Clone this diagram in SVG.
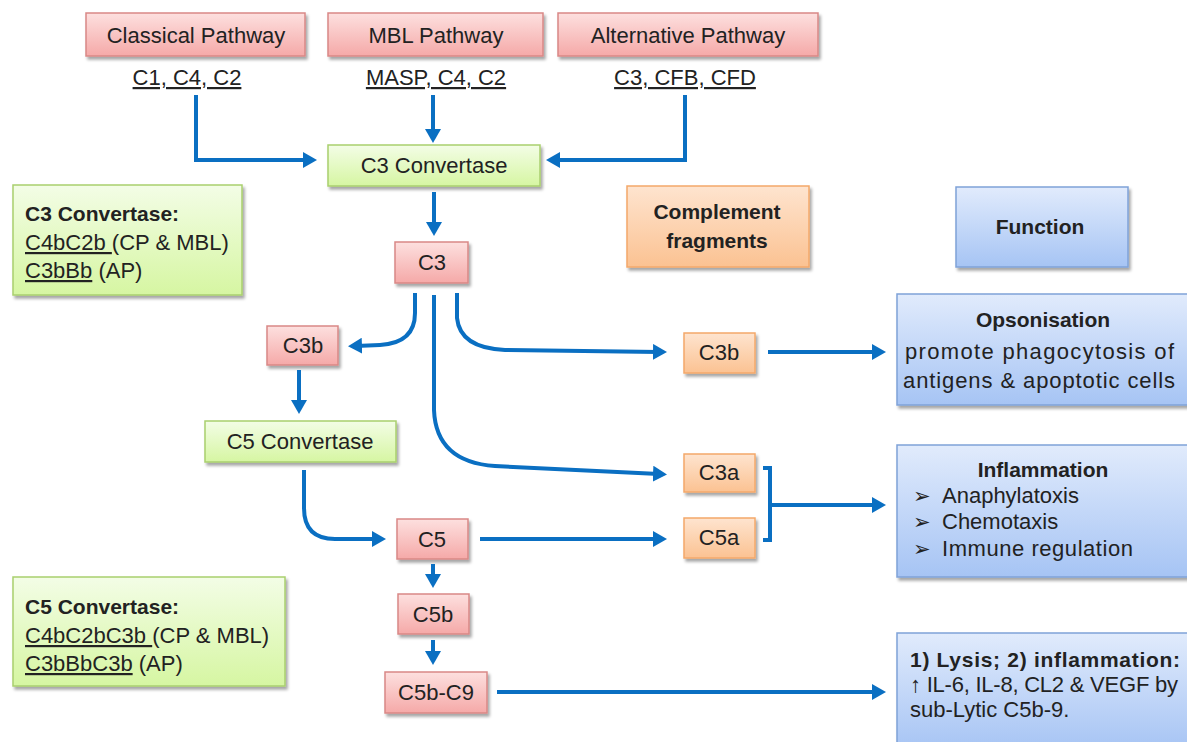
<svg xmlns="http://www.w3.org/2000/svg" width="1187" height="742" viewBox="0 0 1187 742">
<defs>
<linearGradient id="gRed" x1="0" y1="0" x2="0" y2="1"><stop offset="0" stop-color="#fde0df"/><stop offset="1" stop-color="#f5a9a8"/></linearGradient>
<linearGradient id="gGreen" x1="0" y1="0" x2="0" y2="1"><stop offset="0" stop-color="#f3fde6"/><stop offset="1" stop-color="#d6f6a2"/></linearGradient>
<linearGradient id="gOrange" x1="0" y1="0" x2="0" y2="1"><stop offset="0" stop-color="#fee4cf"/><stop offset="1" stop-color="#fbc292"/></linearGradient>
<linearGradient id="gBlue" x1="0" y1="0" x2="0" y2="1"><stop offset="0" stop-color="#e1ebfc"/><stop offset="1" stop-color="#a6c4f4"/></linearGradient>
<filter id="sh" x="-10%" y="-10%" width="130%" height="140%"><feDropShadow dx="2" dy="3" stdDeviation="1.5" flood-color="#000" flood-opacity="0.35"/></filter>
<marker id="ah" viewBox="0 0 14 16" refX="6" refY="8" markerWidth="14" markerHeight="16" orient="auto" markerUnits="userSpaceOnUse"><path d="M0,0 L14,8 L0,16 z" fill="#0a6fc2"/></marker>
</defs>
<style>
.red{fill:url(#gRed);stroke:#d98886;stroke-width:1.5;filter:url(#sh)}
.green{fill:url(#gGreen);stroke:#a9cf6e;stroke-width:1.5;filter:url(#sh)}
.orange{fill:url(#gOrange);stroke:#f4a86a;stroke-width:1.5;filter:url(#sh)}
.blue{fill:url(#gBlue);stroke:#7fa2d8;stroke-width:1.5;filter:url(#sh)}
text{font-family:"Liberation Sans",Arial,sans-serif;fill:#222;}
.t{font-size:22px;text-anchor:middle}
.tb{font-size:21px;font-weight:bold}
.s{font-size:22px}
.b{font-size:21px}
.u{text-decoration:underline}
.c{stroke:#0a6fc2;stroke-width:4;fill:none;marker-end:url(#ah)}
.cn{stroke:#0a6fc2;stroke-width:4;fill:none}
</style>
<rect width="1187" height="742" fill="#fff"/>

<g id="classical"><rect class="red" x="86" y="13" width="219" height="43"/><text class="t" x="196" y="43">Classical Pathway</text></g>
<g id="mbl"><rect class="red" x="328" y="13" width="215" height="43"/><text class="t" x="436" y="43">MBL Pathway</text></g>
<g id="alternative"><rect class="red" x="558" y="13" width="260" height="43"/><text class="t" x="688" y="43">Alternative Pathway</text></g>
<g id="cp-label"><text class="t u" x="187" y="85">C1, C4, C2</text></g>
<g id="mbl-label"><text class="t u" x="436" y="85">MASP, C4, C2</text></g>
<g id="ap-label"><text class="t u" x="685" y="85">C3, CFB, CFD</text></g>

<g id="c3conv"><rect class="green" x="328" y="145" width="212" height="41"/><text class="t" x="434" y="173">C3 Convertase</text></g>
<g id="c3conv-info"><rect class="green" x="13" y="185" width="229" height="110"/>
<text class="tb" x="25" y="221">C3 Convertase:</text>
<text class="s" x="25" y="250"><tspan class="u">C4bC2b </tspan>(CP &amp; MBL)</text>
<text class="s" x="25" y="278"><tspan class="u">C3bBb</tspan>  (AP)</text></g>
<g id="fragments"><rect class="orange" x="627" y="186" width="182" height="81"/><text class="tb" x="717" y="219" text-anchor="middle">Complement</text><text class="tb" x="717" y="248" text-anchor="middle">fragments</text></g>
<g id="function"><rect class="blue" x="956" y="187" width="172" height="80"/><text class="tb" x="1040" y="234" text-anchor="middle">Function</text></g>

<g id="c3"><rect class="red" x="395" y="242" width="73" height="41"/><text class="t" x="432" y="270">C3</text></g>
<g id="c3b"><rect class="red" x="267" y="326" width="71" height="39"/><text class="t" x="303" y="353">C3b</text></g>
<g id="c5conv"><rect class="green" x="205" y="421" width="191" height="41"/><text class="t" x="300" y="449">C5 Convertase</text></g>
<g id="c5"><rect class="red" x="397" y="519" width="71" height="40"/><text class="t" x="432" y="547">C5</text></g>
<g id="c5b"><rect class="red" x="398" y="594" width="71" height="40"/><text class="t" x="433" y="622">C5b</text></g>
<g id="c5b-c9"><rect class="red" x="385" y="672" width="102" height="41"/><text class="t" x="436" y="700">C5b-C9</text></g>

<g id="c3b-frag"><rect class="orange" x="684" y="333" width="71" height="40"/><text class="t" x="719" y="360">C3b</text></g>
<g id="c3a-frag"><rect class="orange" x="684" y="454" width="71" height="38"/><text class="t" x="719" y="480">C3a</text></g>
<g id="c5a-frag"><rect class="orange" x="684" y="518" width="71" height="40"/><text class="t" x="719" y="545">C5a</text></g>

<g id="opsonisation"><rect class="blue" x="897" y="294" width="296" height="111"/>
<text class="tb" x="1043" y="327" text-anchor="middle">Opsonisation</text>
<text class="s" x="905" y="359" textLength="269">promote phagocytosis of</text>
<text class="s" x="903" y="388" textLength="272">antigens &amp; apoptotic cells</text></g>
<g id="inflammation"><rect class="blue" x="897" y="445" width="296" height="132"/>
<text class="tb" x="1043" y="477" text-anchor="middle">Inflammation</text>
<text class="b" x="913" y="503">➢</text><text class="s" x="942" y="503">Anaphylatoxis</text>
<text class="b" x="913" y="529">➢</text><text class="s" x="942" y="529">Chemotaxis</text>
<text class="b" x="913" y="556">➢</text><text class="s" x="942" y="556" textLength="191">Immune regulation</text></g>
<g id="lysis"><rect class="blue" x="897" y="633" width="296" height="117"/>
<text class="tb" x="910" y="667" textLength="270">1) Lysis;  2) inflammation:</text>
<text class="s" x="910" y="692" textLength="268">↑ IL-6, IL-8, CL2 &amp; VEGF by</text>
<text class="s" x="910" y="717">sub-Lytic C5b-9.</text></g>
<g id="c5conv-info"><rect class="green" x="13" y="577" width="272" height="109"/>
<text class="tb" x="25" y="614">C5 Convertase:</text>
<text class="s" x="25" y="643"><tspan class="u">C4bC2bC3b </tspan>(CP &amp; MBL)</text>
<text class="s" x="25" y="671"><tspan class="u">C3bBbC3b</tspan>  (AP)</text></g>

<g id="connectors">
<path class="c" d="M196,95 V160 H309"/>
<path class="c" d="M433,95 V135"/>
<path class="c" d="M685,95 V160 H554"/>
<path class="c" d="M434,192 V228"/>
<path class="c" d="M415,293 V313 Q415,343 380,345 L356,346"/>
<path class="c" d="M457,293 V318 Q460,348 505,350 L659,352"/>
<path class="c" d="M434,295 V410 Q436,462 495,466 L659,474"/>
<path class="c" d="M299,370 V406"/>
<path class="c" d="M304,470 V508 Q304,539 335,539 L378,539"/>
<path class="c" d="M480,539 H659"/>
<path class="c" d="M768,352 H878"/>
<path class="cn" d="M763,468 H770 V540 H763"/>
<path class="c" d="M770,505 H878"/>
<path class="c" d="M433,564 V580"/>
<path class="c" d="M433,640 V657"/>
<path class="c" d="M497,692 H878"/>
</g>
</svg>
